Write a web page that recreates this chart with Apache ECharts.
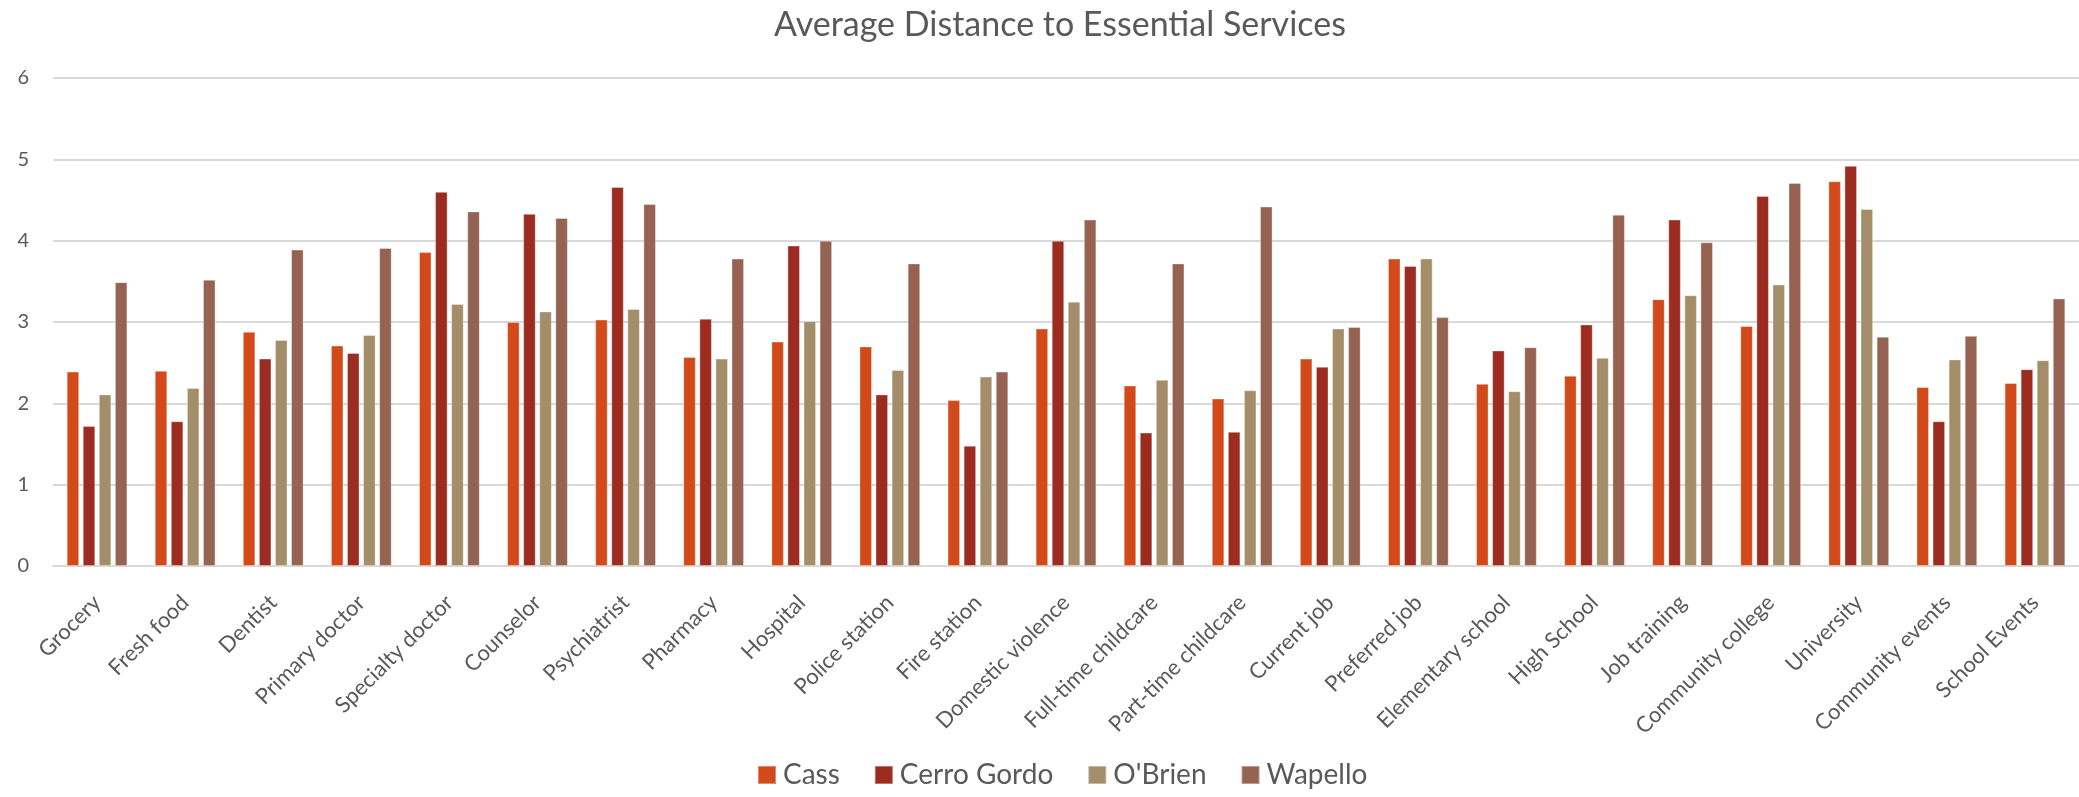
<!DOCTYPE html>
<html>
<head>
<meta charset="utf-8">
<script src="https://cdn.jsdelivr.net/npm/echarts@6/dist/echarts.min.js"></script>
<style>
  html, body { margin: 0; padding: 0; background: #fff; overflow: hidden; }
  #chart { width: 2079px; height: 797px; }
</style>
</head>
<body>
<div id="chart"></div>
<script>
// Services surveyed, one category per group of bars
const categories = [
  'Grocery', 'Fresh food', 'Dentist', 'Primary doctor', 'Specialty doctor',
  'Counselor', 'Psychiatrist', 'Pharmacy', 'Hospital', 'Police station',
  'Fire station', 'Domestic violence', 'Full-time childcare', 'Part-time childcare',
  'Current job', 'Preferred job', 'Elementary school', 'High School',
  'Job training', 'Community college', 'University', 'Community events', 'School Events'
];

// Average distance per county
const cass = [2.39, 2.40, 2.88, 2.71, 3.86, 3.00, 3.03, 2.57, 2.76, 2.70, 2.04, 2.92,
  2.22, 2.06, 2.55, 3.78, 2.24, 2.34, 3.28, 2.95, 4.73, 2.20, 2.25];
const cerroGordo = [1.72, 1.78, 2.55, 2.62, 4.60, 4.33, 4.66, 3.04, 3.94, 2.11, 1.48, 4.00,
  1.64, 1.65, 2.45, 3.69, 2.65, 2.97, 4.26, 4.55, 4.92, 1.78, 2.42];
const obrien = [2.11, 2.19, 2.78, 2.84, 3.22, 3.13, 3.16, 2.55, 3.01, 2.41, 2.33, 3.25,
  2.29, 2.16, 2.92, 3.78, 2.15, 2.56, 3.33, 3.46, 4.39, 2.54, 2.53];
const wapello = [3.49, 3.52, 3.89, 3.91, 4.36, 4.28, 4.45, 3.78, 4.00, 3.72, 2.39, 4.26,
  3.72, 4.42, 2.94, 3.06, 2.69, 4.32, 3.98, 4.71, 2.82, 2.83, 3.29];

const seriesNames = ['Cass', 'Cerro Gordo', "O'Brien", 'Wapello'];
const seriesData = [cass, cerroGordo, obrien, wapello];
const colors = ['#D24A19', '#9C2B20', '#A48E6A', '#966352'];

const font = 'Lato, "Open Sans", sans-serif';

const chart = echarts.init(document.getElementById('chart'), null, { renderer: 'canvas' });
chart.setOption({
  animation: false,
  color: colors,
  title: {
    text: 'Average Distance to Essential Services',
    left: 769,
    top: 3,
    textStyle: { fontFamily: font, fontSize: 34, fontWeight: 'normal', color: '#595959' }
  },
  legend: {
    data: seriesNames,
    bottom: 3,
    left: 752,
    itemWidth: 18,
    itemHeight: 18,
    itemGap: 34,
    icon: 'rect',
    textStyle: { fontFamily: font, fontSize: 28, color: '#595959', padding: [0, 0, 0, 2] }
  },
  // plot area runs slightly past the right edge, so the grid lines reach the border
  grid: { left: 53, right: -4, top: 78, bottom: 231, containLabel: false },
  xAxis: {
    type: 'category',
    data: categories,
    axisTick: { show: false },
    axisLine: { lineStyle: { color: '#D9D9D9', width: 2 } },
    axisLabel: {
      rotate: 45,
      interval: 0,
      margin: 33,
      fontFamily: font,
      fontSize: 22,
      color: '#595959'
    }
  },
  yAxis: {
    type: 'value',
    min: 0,
    max: 6,
    interval: 1,
    axisLine: { show: false },
    axisTick: { show: false },
    splitLine: { lineStyle: { color: '#D9D9D9', width: 2 } },
    axisLabel: { fontFamily: font, fontSize: 20, color: '#595959', margin: 24 }
  },
  series: seriesNames.map((name, i) => ({
    name: name,
    type: 'bar',
    data: seriesData[i],
    barGap: '28%',
    barCategoryGap: '31%',
    itemStyle: { color: colors[i], borderColor: 'rgba(255,255,255,0.35)', borderWidth: 1 }
  }))
});
</script>
</body>
</html>
